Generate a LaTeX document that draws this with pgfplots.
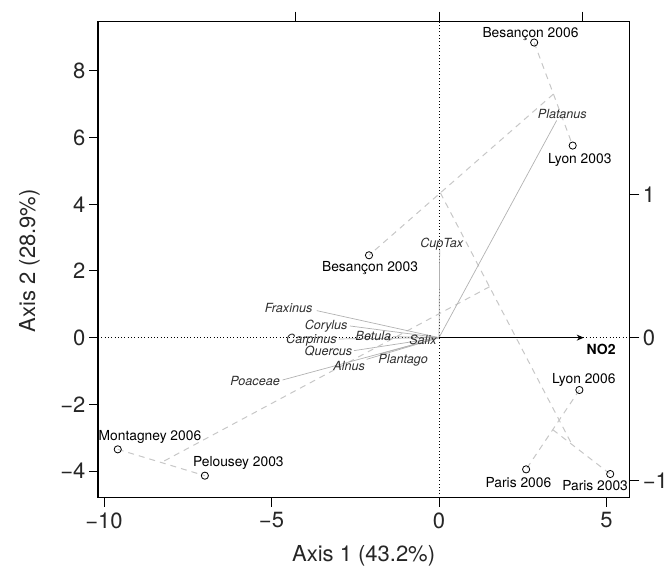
\documentclass[border=0pt]{standalone}
\usepackage{fontspec}
\setmainfont{TeX Gyre Heros}
\usepackage{pgfplots}
\pgfplotsset{compat=1.18}
\usetikzlibrary{arrows.meta}
\definecolor{dashgray}{gray}{0.78}
\definecolor{vecgray}{gray}{0.70}
\definecolor{labgray}{gray}{0.18}
\newcommand{\sitefont}{\fontsize{13.8bp}{16bp}\selectfont}
\newcommand{\spfont}{\fontsize{12.6bp}{15bp}\selectfont\itshape}
\begin{document}
\begin{tikzpicture}
\useasboundingbox (0,0) rectangle (672bp,567bp);
\begin{axis}[
  at={(98bp,69.3bp)}, anchor=south west,
  scale only axis, width=531.3bp, height=476bp,
  xmin=-10.18, xmax=5.68, ymin=-4.80, ymax=9.475,
  xtick={-10,-5,0,5}, xticklabels={−10,−5,0,5},
  ytick={-4,-2,0,2,4,6,8}, yticklabels={−4,−2,0,2,4,6,8},
  xtick pos=left, ytick pos=left,
  tick align=outside, major tick length=9bp,
  tick style={black, line width=1bp},
  axis line style={black, line width=1.1bp},
  ticklabel style={font=\fontsize{22bp}{26bp}\selectfont, text=black!85},
  xticklabel style={yshift=-2.5bp},
  clip=false,
]
% dotted axes
\addplot[black, line width=0.9bp, dash pattern=on 0.9bp off 2.4bp] coordinates {(0,-4.80) (0,9.475)};
\addplot[black, line width=0.9bp, dash pattern=on 0.9bp off 2.4bp] coordinates {(-10.18,0) (5.68,0)};
% dashed tree
\addplot[dashgray, line width=1bp, dash pattern=on 6bp off 5bp] coordinates {(2.84,8.85) (3.99,5.76)};
\addplot[dashgray, line width=1bp, dash pattern=on 6bp off 5bp] coordinates {(3.415,7.305) (-2.09,2.47)};
\addplot[dashgray, line width=1bp, dash pattern=on 6bp off 5bp] coordinates {(0.040,4.341) (3.967,-3.203)};
\addplot[dashgray, line width=1bp, dash pattern=on 6bp off 5bp] coordinates {(1.509,1.527) (-8.29,-3.745)};
\addplot[dashgray, line width=1bp, dash pattern=on 6bp off 5bp] coordinates {(4.19,-1.57) (2.60,-3.95)};
\addplot[dashgray, line width=1bp, dash pattern=on 6bp off 5bp] coordinates {(3.395,-2.76) (5.11,-4.09)};
\addplot[dashgray, line width=1bp, dash pattern=on 6bp off 5bp] coordinates {(-9.59,-3.35) (-6.99,-4.14)};
% species vectors
\addplot[vecgray, line width=0.7bp] coordinates {(0,0) (3.51,6.51)};
\addplot[vecgray, line width=0.7bp] coordinates {(0,0) (0.02,2.63)};
\addplot[vecgray, line width=0.7bp] coordinates {(0,0) (-3.65,0.81)};
\addplot[vecgray, line width=0.7bp] coordinates {(0,0) (-2.66,0.35)};
\addplot[vecgray, line width=0.7bp] coordinates {(0,0) (-3.00,-0.04)};
\addplot[vecgray, line width=0.7bp] coordinates {(0,0) (-1.38,0.03)};
\addplot[vecgray, line width=0.7bp] coordinates {(0,0) (-0.25,-0.03)};
\addplot[vecgray, line width=0.7bp] coordinates {(0,0) (-2.54,-0.39)};
\addplot[vecgray, line width=0.7bp] coordinates {(0,0) (-2.16,-0.65)};
\addplot[vecgray, line width=0.7bp] coordinates {(0,0) (-1.76,-0.49)};
\addplot[vecgray, line width=0.7bp] coordinates {(0,0) (-4.67,-1.27)};
% NO2 arrow
\addplot[black, line width=1.6bp, -{Stealth[length=7bp,width=6bp]}] coordinates {(0,0) (4.32,0)};
% sites
\addplot[only marks, mark=o, mark size=3.6bp, black, line width=0.8bp] coordinates {
(2.84,8.85) (3.99,5.76) (-2.09,2.47) (4.19,-1.57) (2.60,-3.95) (5.11,-4.09) (-9.59,-3.35) (-6.99,-4.14)};
% site labels
\node[anchor=base, font=\sitefont] at (axis cs:2.73,9.01) {Besançon 2006};
\node[anchor=base, font=\sitefont] at (axis cs:4.20,5.21) {Lyon 2003};
\node[anchor=base, font=\sitefont] at (axis cs:-2.06,1.98) {Besançon 2003};
\node[anchor=base, font=\sitefont] at (axis cs:4.32,-1.37) {Lyon 2006};
\node[anchor=base, font=\sitefont] at (axis cs:2.37,-4.50) {Paris 2006};
\node[anchor=base, font=\sitefont] at (axis cs:4.66,-4.59) {Paris 2003};
\node[anchor=base, font=\sitefont] at (axis cs:-8.63,-3.07) {Montagney 2006};
\node[anchor=base, font=\sitefont] at (axis cs:-5.99,-3.87) {Pelousey 2003};
% species labels
\node[anchor=base, font=\spfont, text=labgray] at (axis cs:3.68,6.58) {Platanus};
\node[anchor=base, font=\spfont, text=labgray] at (axis cs:0.08,2.70) {CupTax};
\node[anchor=base, font=\spfont, text=labgray] at (axis cs:-4.49,0.75) {Fraxinus};
\node[anchor=base, font=\spfont, text=labgray] at (axis cs:-3.37,0.23) {Corylus};
\node[anchor=base, font=\spfont, text=labgray] at (axis cs:-3.81,-0.19) {Carpinus};
\node[anchor=base, font=\spfont, text=labgray] at (axis cs:-1.96,-0.10) {Betula};
\node[anchor=base, font=\spfont, text=labgray] at (axis cs:-0.48,-0.22) {Salix};
\node[anchor=base, font=\spfont, text=labgray] at (axis cs:-3.30,-0.55) {Quercus};
\node[anchor=base, font=\spfont, text=labgray] at (axis cs:-2.68,-0.99) {Alnus};
\node[anchor=base, font=\spfont, text=labgray] at (axis cs:-1.07,-0.77) {Plantago};
\node[anchor=base, font=\spfont, text=labgray] at (axis cs:-5.49,-1.45) {Poaceae};
\node[anchor=base, font=\fontsize{14bp}{16bp}\selectfont\bfseries] at (axis cs:4.84,-0.52) {NO2};
\end{axis}
\begin{axis}[
  at={(98bp,69.3bp)}, anchor=south west,
  scale only axis, width=531.3bp, height=476bp,
  xmin=-2.3785, xmax=1.3271, ymin=-1.1215, ymax=2.2138,
  axis x line*=top, axis y line*=right,
  axis line style={-, black, line width=1.1bp},
  xtick={-1,0,1}, xticklabels={}, ytick={-1,0,1}, yticklabels={−1,0,1},
  tick align=outside, major tick length=10bp,
  tick style={black, line width=1bp},
  ticklabel style={font=\fontsize{22bp}{26bp}\selectfont, text=black!85},
]
\end{axis}
\node[anchor=base, font=\fontsize{22bp}{26bp}\selectfont, text=black!85] at (363.6bp,5.5bp) {Axis 1 (43.2\%)};
\node[anchor=base, rotate=90, font=\fontsize{22bp}{26bp}\selectfont, text=black!85] at (35bp,306.2bp) {Axis 2 (28.9\%)};
\end{tikzpicture}
\end{document}
